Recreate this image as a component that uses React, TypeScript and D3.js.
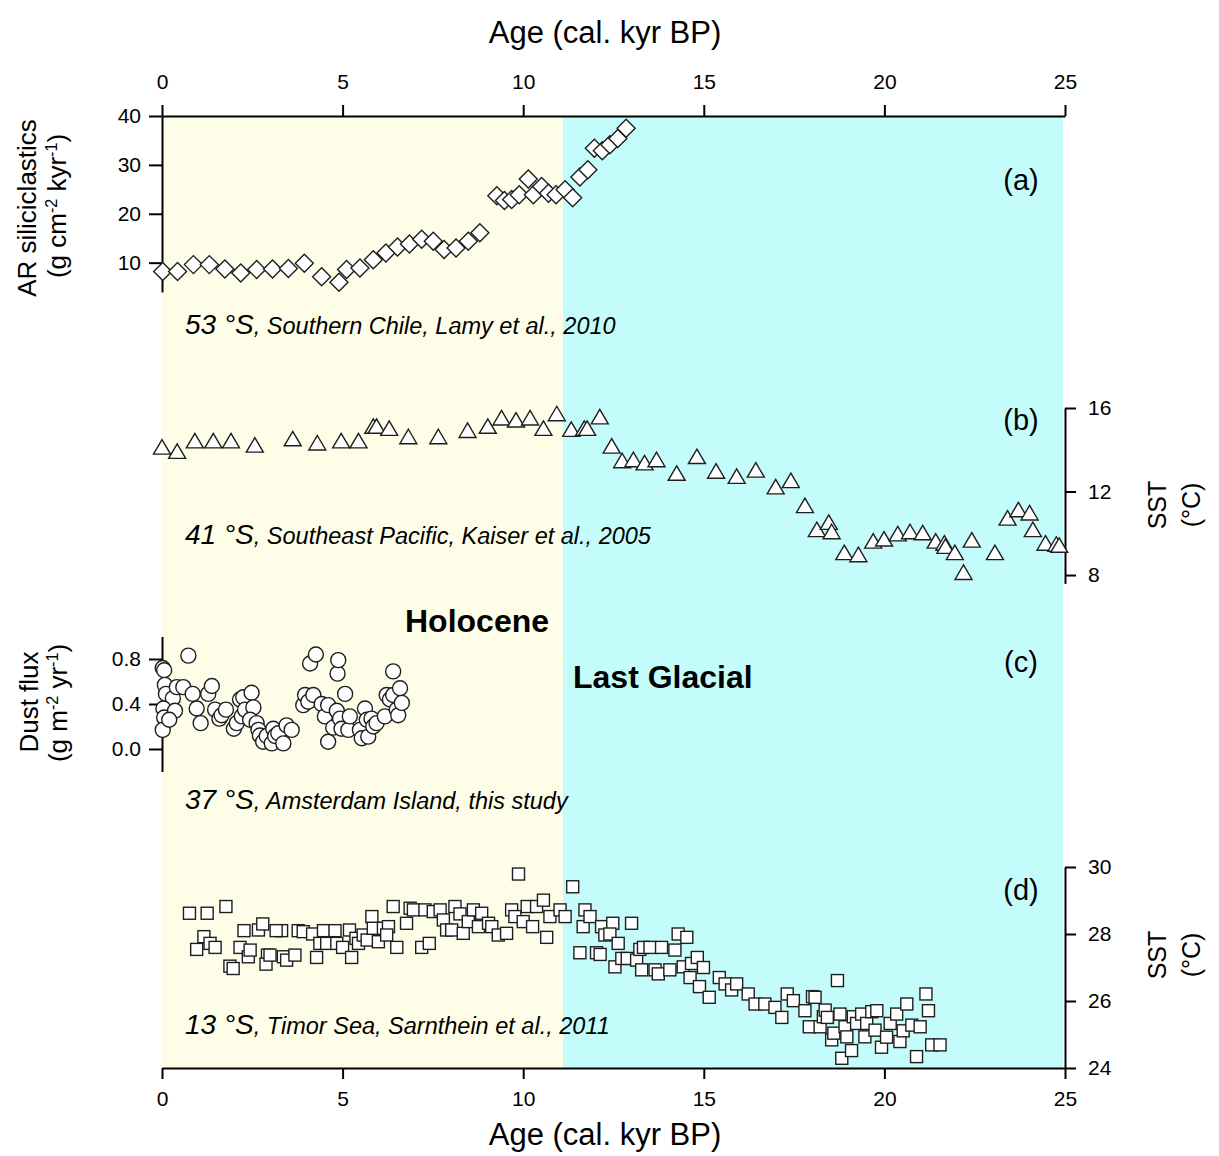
import React, { useEffect, useRef } from 'react';
import * as d3 from 'd3';

const W = 1219;
const H = 1156;

// Shared age axis (cal. kyr BP)
const ageDomain = [0, 25];
const ageTicks = [0, 5, 10, 15, 20, 25];
const holoceneEnd = 11.1;

// (a) Accumulation rate of siliciclastics, 53°S Southern Chile [age, g cm-2 kyr-1]
const siliciclastics: [number, number][] = [
  [0.02, 8.2], [0.43, 8.2], [0.87, 9.6], [1.31, 9.6], [1.74, 8.7], [2.18, 7.9], [2.62, 8.6],
  [3.06, 8.7], [3.5, 8.8], [3.94, 9.9], [4.42, 7.1], [4.9, 6.0], [5.11, 8.6], [5.48, 8.9],
  [5.85, 10.6], [6.2, 12.0], [6.52, 13.2], [6.85, 13.8], [7.19, 14.8], [7.51, 14.4], [7.81, 12.7],
  [8.14, 13.0], [8.48, 14.4], [8.8, 16.1], [9.27, 23.7], [9.48, 22.7], [9.68, 22.9], [9.89, 23.9],
  [10.14, 27.1], [10.28, 23.9], [10.51, 25.6], [10.7, 24.2], [10.91, 23.9], [11.16, 24.9],
  [11.37, 23.3], [11.57, 27.5], [11.79, 29.0], [11.97, 33.4], [12.19, 32.9], [12.4, 34.1],
  [12.62, 35.4], [12.85, 37.5],
];
const siliciTicks = [10, 20, 30, 40];

// (b) SST, 41°S Southeast Pacific [age, °C]
const sstPacific: [number, number][] = [
  [0.0, 14.1], [0.42, 13.9], [0.91, 14.4], [1.42, 14.4], [1.91, 14.4], [2.57, 14.2], [3.62, 14.5],
  [4.3, 14.3], [4.96, 14.4], [5.44, 14.4], [5.85, 15.1], [5.94, 15.1], [6.29, 15.0], [6.82, 14.6],
  [7.65, 14.6], [8.46, 14.9], [9.02, 15.1], [9.4, 15.5], [9.8, 15.4], [10.19, 15.5], [10.56, 15.0],
  [10.93, 15.7], [11.33, 14.95], [11.69, 15.0], [11.77, 15.0], [12.12, 15.55], [12.45, 14.15],
  [12.74, 13.45], [13.05, 13.5], [13.36, 13.35], [13.69, 13.5], [14.25, 12.85], [14.81, 13.65],
  [15.34, 12.95], [15.91, 12.7], [16.44, 13.0], [16.99, 12.2], [17.41, 12.5], [17.8, 11.3],
  [18.13, 10.15], [18.46, 10.5], [18.54, 10.05], [18.89, 9.05], [19.28, 8.95], [19.69, 9.6],
  [19.99, 9.7], [20.37, 9.95], [20.71, 10.05], [21.06, 10.0], [21.42, 9.6], [21.66, 9.5],
  [21.69, 9.35], [21.95, 9.05], [22.19, 8.1], [22.42, 9.65], [23.06, 9.05], [23.41, 10.7],
  [23.71, 11.1], [24.02, 10.95], [24.11, 10.15], [24.46, 9.5], [24.76, 9.45], [24.84, 9.4],
];
const sstPacificTicks = [8, 12, 16];

// (c) Dust flux, 37°S Amsterdam Island [age, g m-2 yr-1]
const dustFlux: [number, number][] = [
  [0.02, 0.72], [0.06, 0.7], [0.73, 0.83], [0.08, 0.57], [0.11, 0.49], [0.3, 0.45], [0.04, 0.36],
  [0.06, 0.28], [0.02, 0.17], [0.36, 0.34], [0.2, 0.26], [0.41, 0.55], [0.59, 0.55], [0.85, 0.49],
  [0.96, 0.36], [1.07, 0.23], [1.28, 0.49], [1.38, 0.56], [1.47, 0.35], [1.59, 0.27], [1.65, 0.3],
  [1.77, 0.35], [1.99, 0.18], [2.07, 0.23], [2.16, 0.44], [2.25, 0.46], [2.48, 0.5], [2.21, 0.29],
  [2.3, 0.35], [2.53, 0.37], [2.44, 0.26], [2.62, 0.23], [2.67, 0.17], [2.71, 0.12], [2.8, 0.065],
  [2.9, 0.115], [3.04, 0.05], [3.08, 0.18], [3.13, 0.115], [3.22, 0.14], [3.36, 0.05], [3.45, 0.21],
  [3.59, 0.17], [3.91, 0.39], [3.96, 0.48], [4.05, 0.42], [4.1, 0.76], [4.19, 0.48], [4.26, 0.84],
  [4.42, 0.4], [4.51, 0.29], [4.6, 0.39], [4.6, 0.065], [4.74, 0.19], [4.84, 0.34], [4.86, 0.67],
  [4.88, 0.79], [4.93, 0.27], [4.97, 0.18], [5.07, 0.49], [5.16, 0.17], [5.2, 0.29], [5.48, 0.17],
  [5.53, 0.095], [5.62, 0.36], [5.67, 0.26], [5.71, 0.11], [5.8, 0.27], [5.85, 0.2], [5.94, 0.23],
  [6.17, 0.29], [6.22, 0.48], [6.31, 0.44], [6.4, 0.48], [6.4, 0.69], [6.5, 0.35], [6.54, 0.3],
  [6.59, 0.54], [6.64, 0.41],
];
const dustTicks = [0, 0.4, 0.8];

// (d) SST, 13°S Timor Sea [age, °C]
const sstTimor: [number, number][] = [
  [0.76, 28.62], [1.25, 28.62], [1.77, 28.82], [1.16, 27.92], [0.96, 27.54], [1.33, 27.72],
  [1.47, 27.6], [1.88, 27.04], [1.97, 26.97], [2.27, 28.1], [2.16, 27.6], [2.39, 27.32],
  [2.44, 27.52], [2.67, 28.12], [2.79, 28.3], [2.92, 27.37], [2.88, 27.1], [2.99, 27.37],
  [3.31, 28.1], [3.16, 28.1], [3.36, 27.32], [3.45, 27.22], [3.68, 27.37], [3.77, 28.1],
  [3.91, 28.07], [4.17, 28.0], [4.28, 27.3], [4.37, 27.72], [4.47, 28.1], [4.56, 27.72],
  [4.79, 28.1], [4.84, 27.72], [5.0, 27.6], [5.19, 28.12], [5.25, 27.3], [5.37, 27.87],
  [5.44, 27.72], [5.57, 27.97], [5.68, 27.82], [5.81, 28.52], [5.85, 28.17], [5.99, 27.77],
  [6.13, 28.17], [6.27, 28.22], [6.22, 27.97], [6.4, 28.82], [6.5, 27.6], [6.77, 28.32],
  [6.87, 28.77], [6.96, 28.72], [7.19, 27.6], [7.4, 27.72], [7.28, 28.72], [7.51, 28.67],
  [7.7, 28.72], [7.79, 28.42], [7.88, 28.12], [8.02, 28.12], [8.11, 28.82], [8.25, 28.6],
  [8.34, 28.02], [8.48, 28.37], [8.62, 28.72], [8.76, 28.22], [8.85, 28.62], [9.04, 28.32],
  [9.13, 28.22], [9.31, 27.97], [9.54, 28.02], [9.68, 28.72], [9.77, 28.52], [9.87, 29.79],
  [10.0, 28.37], [10.11, 28.82], [10.26, 28.22], [10.37, 28.82], [10.56, 29.01], [10.65, 27.9],
  [10.74, 28.52], [11.02, 28.72], [11.16, 28.52], [11.37, 29.41], [11.57, 27.44], [11.71, 28.72],
  [11.66, 28.22], [11.85, 28.52], [12.03, 27.44], [12.13, 27.39], [12.17, 28.22], [12.26, 27.97],
  [12.48, 28.32], [12.4, 28.0], [12.63, 27.72], [13.0, 28.32], [12.54, 27.02], [12.73, 27.27],
  [12.88, 27.27], [13.14, 27.22], [13.23, 27.54], [13.33, 27.6], [13.51, 27.6], [13.83, 27.6],
  [13.28, 26.93], [13.65, 26.93], [13.74, 26.81], [14.06, 26.93], [14.2, 27.52], [14.29, 28.0],
  [14.53, 27.9], [14.43, 27.02], [14.66, 27.12], [14.82, 27.3], [14.99, 27.0], [14.62, 26.7],
  [14.88, 26.43], [15.15, 26.11], [15.43, 26.7], [15.59, 26.51], [15.77, 26.33], [15.91, 26.51],
  [16.23, 26.21], [16.42, 25.91], [16.69, 25.91], [16.97, 25.81], [17.16, 25.51], [17.31, 26.21],
  [17.48, 26.01], [17.8, 25.71], [17.92, 25.23], [18.01, 26.13], [18.08, 26.11], [18.22, 25.23],
  [18.31, 25.53], [18.36, 25.73], [18.42, 25.51], [18.54, 24.84], [18.6, 25.04], [18.7, 26.61],
  [18.77, 25.61], [18.82, 24.29], [18.91, 25.23], [18.96, 24.93], [19.09, 24.52], [19.14, 25.53],
  [19.23, 25.33], [19.37, 25.61], [19.46, 24.93], [19.51, 25.33], [19.65, 25.68], [19.79, 25.71],
  [19.74, 25.13], [19.92, 24.62], [20.06, 24.92], [20.16, 25.33], [20.34, 25.61], [20.43, 24.79],
  [20.52, 25.11], [20.62, 25.91], [20.76, 25.28], [20.89, 24.34], [20.99, 25.23], [21.15, 26.21],
  [21.22, 25.71], [21.31, 24.69], [21.54, 24.69],
];
const sstTimorTicks = [24, 26, 28, 30];

const FONT = "'Liberation Sans', Arial, Helvetica, sans-serif";
const INK = '#000';
const MARK_STROKE = '#1e1e1e';

export default function App() {
  const ref = useRef<SVGSVGElement>(null);

  useEffect(() => {
    const svg = d3.select(ref.current);
    svg.selectAll('*').remove();

    const plotTop = 116;
    const plotBottom = 1068;
    const x = d3.scaleLinear().domain(ageDomain).range([162, 1065]);

    const yA = d3.scaleLinear().domain([4, 40]).range([292, 116]);
    const yB = d3.scaleLinear().domain([7.6, 16]).range([583.4, 408]);
    const yC = d3.scaleLinear().domain([-0.2, 1.0]).range([771.5, 636.5]);
    const yD = d3.scaleLinear().domain([24, 30]).range([1068, 867]);

    // Climate period shading
    svg.append('rect')
      .attr('x', x(0)).attr('y', plotTop)
      .attr('width', x(holoceneEnd) - x(0)).attr('height', plotBottom - plotTop)
      .attr('fill', '#fefee8');
    svg.append('rect')
      .attr('x', x(holoceneEnd)).attr('y', plotTop)
      .attr('width', x(25) - x(holoceneEnd) - 2).attr('height', plotBottom - plotTop)
      .attr('fill', '#c4fcfc');

    const styleAxis = (g: any, size: number) => {
      g.selectAll('path.domain').attr('stroke', INK).attr('stroke-width', 2);
      g.selectAll('.tick line').attr('stroke', INK).attr('stroke-width', 2);
      g.selectAll('.tick text').attr('font-family', FONT).attr('font-size', size).attr('fill', INK);
    };
    const intFmt = d3.format('d');

    // Age axes, top and bottom
    styleAxis(svg.append('g').attr('transform', `translate(0,${plotTop})`)
      .call(d3.axisTop(x).tickValues(ageTicks).tickFormat(intFmt).tickSize(11).tickSizeOuter(0).tickPadding(16)), 21);
    styleAxis(svg.append('g').attr('transform', `translate(0,${plotBottom})`)
      .call(d3.axisBottom(x).tickValues(ageTicks).tickFormat(intFmt).tickSize(11).tickSizeOuter(0).tickPadding(12)), 21);

    // Panel value axes
    styleAxis(svg.append('g').attr('transform', `translate(${x(0)},0)`)
      .call(d3.axisLeft(yA).tickValues(siliciTicks).tickFormat(intFmt).tickSize(13).tickSizeOuter(0).tickPadding(8)), 21);
    styleAxis(svg.append('g').attr('transform', `translate(${x(25)},0)`)
      .call(d3.axisRight(yB).tickValues(sstPacificTicks).tickFormat(intFmt).tickSize(11).tickSizeOuter(0).tickPadding(12)), 21);
    styleAxis(svg.append('g').attr('transform', `translate(${x(0)},0)`)
      .call(d3.axisLeft(yC).tickValues(dustTicks).tickFormat(d3.format('.1f')).tickSize(13).tickSizeOuter(0).tickPadding(8)), 21);
    styleAxis(svg.append('g').attr('transform', `translate(${x(25)},0)`)
      .call(d3.axisRight(yD).tickValues(sstTimorTicks).tickFormat(intFmt).tickSize(11).tickSizeOuter(0).tickPadding(12)), 21);

    // Markers
    const marks = (data: [number, number][], draw: (sel: any) => any) => {
      const g = svg.append('g');
      draw(g.selectAll('.m').data(data).enter())
        .attr('fill', '#fff').attr('stroke', MARK_STROKE).attr('stroke-width', 1.4);
    };
    marks(siliciclastics, (e) => e.append('path')
      .attr('d', 'M0,-9L9,0L0,9L-9,0Z')
      .attr('transform', (d: [number, number]) => `translate(${x(d[0])},${yA(d[1])})`));
    marks(sstPacific, (e) => e.append('path')
      .attr('d', 'M0,-8L8.5,6.5L-8.5,6.5Z')
      .attr('transform', (d: [number, number]) => `translate(${x(d[0])},${yB(d[1])})`));
    marks(dustFlux, (e) => e.append('circle')
      .attr('r', 7.5)
      .attr('cx', (d: [number, number]) => x(d[0]))
      .attr('cy', (d: [number, number]) => yC(d[1])));
    marks(sstTimor, (e) => e.append('rect')
      .attr('width', 12).attr('height', 12)
      .attr('x', (d: [number, number]) => x(d[0]) - 6)
      .attr('y', (d: [number, number]) => yD(d[1]) - 6));

    const text = (tx: number, ty: number, s: string, size: number, opts: any = {}) => {
      const t = svg.append('text').attr('x', tx).attr('y', ty)
        .attr('font-family', FONT).attr('font-size', size).attr('fill', INK)
        .attr('text-anchor', opts.anchor || 'middle')
        .text(s);
      if (opts.bold) t.attr('font-weight', 'bold');
      if (opts.rotate) t.attr('transform', `rotate(-90,${tx},${ty})`);
      return t;
    };

    // Axis titles
    text(605, 43, 'Age (cal. kyr BP)', 31);
    text(605, 1145, 'Age (cal. kyr BP)', 31);

    // Left titles with superscripts
    const unitLabel = (tx: number, ty: number, parts: [string, boolean][], size: number) => {
      const t = svg.append('text').attr('x', tx).attr('y', ty)
        .attr('font-family', FONT).attr('font-size', size).attr('fill', INK)
        .attr('text-anchor', 'middle')
        .attr('transform', `rotate(-90,${tx},${ty})`);
      parts.forEach(([s, sup]) => {
        const ts = t.append('tspan').text(s);
        if (sup) ts.attr('font-size', size * 0.62).attr('baseline-shift', '55%');
      });
    };
    text(36, 208, 'AR siliciclastics', 26, { rotate: true });
    unitLabel(66, 206, [['(g cm', false], ['-2', true], [' kyr', false], ['-1', true], [')', false]], 26);
    text(38, 702, 'Dust flux', 26, { rotate: true });
    unitLabel(67, 703, [['(g m', false], ['-2', true], [' yr', false], ['-1', true], [')', false]], 26);

    // Right titles
    text(1166, 505, 'SST', 25, { rotate: true });
    text(1200, 505, '(°C)', 25, { rotate: true });
    text(1166, 955, 'SST', 25, { rotate: true });
    text(1200, 955, '(°C)', 25, { rotate: true });

    // Panel letters
    text(1021, 190, '(a)', 29);
    text(1021, 430, '(b)', 29);
    text(1021, 672, '(c)', 29);
    text(1021, 900, '(d)', 29);

    // Site labels
    const site = (ty: number, lat: string, rest: string) => {
      const t = svg.append('text').attr('x', 185).attr('y', ty)
        .attr('font-family', FONT).attr('font-style', 'italic').attr('fill', INK);
      t.append('tspan').attr('font-size', 28).text(lat);
      t.append('tspan').attr('font-size', 23.5).text(rest);
    };
    site(334, '53 °S', ', Southern Chile, Lamy et al., 2010');
    site(544, '41 °S', ', Southeast Pacific, Kaiser et al., 2005');
    site(809, '37 °S', ', Amsterdam Island, this study');
    site(1034, '13 °S', ', Timor Sea, Sarnthein et al., 2011');

    // Period names
    text(405, 632, 'Holocene', 32, { anchor: 'start', bold: true });
    text(573, 688, 'Last Glacial', 32, { anchor: 'start', bold: true });
  }, []);

  return (
    <svg
      ref={ref}
      width={W}
      height={H}
      viewBox={`0 0 ${W} ${H}`}
      style={{ position: 'absolute', left: 0, top: 0, background: '#fff' }}
    />
  );
}
